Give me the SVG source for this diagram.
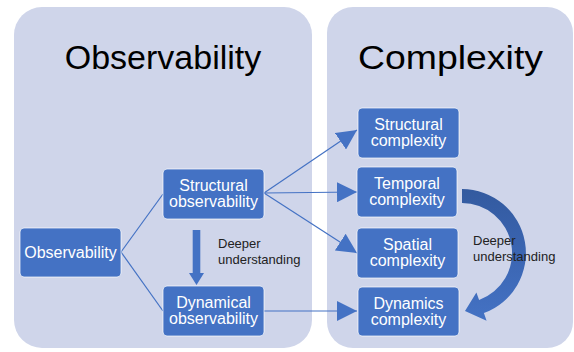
<svg xmlns="http://www.w3.org/2000/svg" width="574" height="352" viewBox="0 0 574 352">
<style>
.panel{fill:#CFD5EA;}
.title{font-family:"Liberation Sans",Arial,sans-serif;font-size:34px;fill:#000;text-anchor:middle;}
.box{fill:#4472C4;stroke:#FFFFFF;stroke-opacity:0.7;stroke-width:1;}
.lbl{font-family:"Liberation Sans",Arial,sans-serif;font-size:16px;fill:#FFFFFF;text-anchor:middle;}
.note{font-family:"Liberation Sans",Arial,sans-serif;font-size:13px;fill:#222;}
.conn{stroke:#4472C4;stroke-width:1.2;fill:none;}
</style>
<defs>
<marker id="ah" markerUnits="userSpaceOnUse" markerWidth="20" markerHeight="20" refX="20" refY="10" orient="auto" viewBox="0 0 20 20">
<path d="M0,0 L20,10 L0,20 Z" fill="#4472C4"/>
</marker>
<linearGradient id="cg" x1="0" y1="0" x2="0" y2="1">
<stop offset="0" stop-color="#335A9F"/>
<stop offset="0.45" stop-color="#3A64B0"/>
<stop offset="1" stop-color="#4472C4"/>
</linearGradient>
</defs>
<rect width="574" height="352" fill="#FFFFFF"/>
<g id="panel-observability">
<rect class="panel" x="14" y="7" width="298" height="341" rx="28" ry="28"/>
<text class="title" x="163" y="69">Observability</text>
</g>
<g id="panel-complexity">
<rect class="panel" x="327" y="7" width="246" height="341" rx="26" ry="26"/>
<text class="title" transform="translate(450.5,69) scale(1.1,1)" x="0" y="0">Complexity</text>
</g>
<g id="connectors">
<line class="conn" x1="121" y1="252" x2="163" y2="194"/>
<line class="conn" x1="121" y1="252" x2="163" y2="311"/>
<line class="conn" x1="264" y1="193" x2="357" y2="130" marker-end="url(#ah)"/>
<line class="conn" x1="264" y1="193" x2="357" y2="192" marker-end="url(#ah)"/>
<line class="conn" x1="264" y1="193" x2="357" y2="253" marker-end="url(#ah)"/>
<line class="conn" x1="264" y1="311" x2="357" y2="311" marker-end="url(#ah)"/>
<path d="M192.7,230 L200.3,230 L200.3,273 L204,273 L196.5,285 L189,273 L192.7,273 Z" fill="#4472C4"/>
<path d="M462,189 A64,64 0 0 1 483.9,313.1 L486.6,320.7 L465,311 L476.4,292.5 L479.1,300 A50,50 0 0 0 462,203 Z" fill="url(#cg)"/>
</g>
<g id="note-left">
<text class="note" x="218" y="248">Deeper</text>
<text class="note" x="218" y="264">understanding</text>
</g>
<g id="note-right">
<text class="note" x="473" y="245">Deeper</text>
<text class="note" x="473" y="261">understanding</text>
</g>
<g id="node-observability">
<rect class="box" x="20" y="228" width="101" height="49" rx="4"/>
<text class="lbl" x="70.5" y="258">Observability</text>
</g>
<g id="node-structural-observability">
<rect class="box" x="163" y="169" width="101" height="50" rx="4"/>
<text class="lbl" x="213.5" y="191">Structural</text>
<text class="lbl" x="213.5" y="207">observability</text>
</g>
<g id="node-dynamical-observability">
<rect class="box" x="163" y="286" width="101" height="50" rx="4"/>
<text class="lbl" x="213.5" y="308">Dynamical</text>
<text class="lbl" x="213.5" y="324">observability</text>
</g>
<g id="node-structural-complexity">
<rect class="box" x="358" y="108" width="101" height="50" rx="4"/>
<text class="lbl" x="408.5" y="130">Structural</text>
<text class="lbl" x="408.5" y="146">complexity</text>
</g>
<g id="node-temporal-complexity">
<rect class="box" x="357" y="167" width="100" height="50" rx="4"/>
<text class="lbl" x="407" y="189">Temporal</text>
<text class="lbl" x="407" y="205">complexity</text>
</g>
<g id="node-spatial-complexity">
<rect class="box" x="357" y="228" width="101" height="50" rx="4"/>
<text class="lbl" x="407.5" y="250">Spatial</text>
<text class="lbl" x="407.5" y="266">complexity</text>
</g>
<g id="node-dynamics-complexity">
<rect class="box" x="358" y="287" width="101" height="49" rx="4"/>
<text class="lbl" x="408.5" y="308.5">Dynamics</text>
<text class="lbl" x="408.5" y="324.5">complexity</text>
</g>
</svg>
